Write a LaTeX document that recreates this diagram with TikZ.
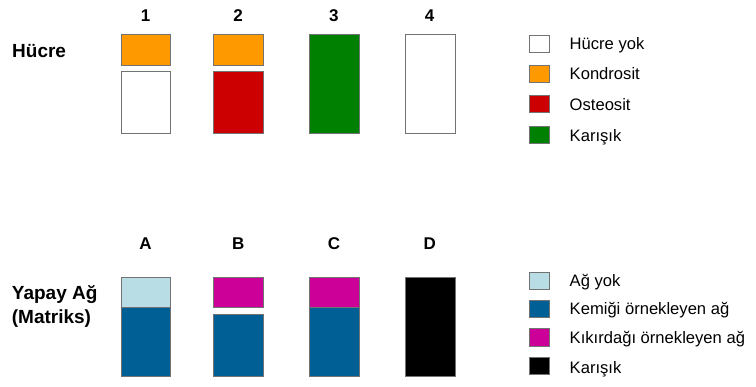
\documentclass[tikz,border=0pt]{standalone}
\usepackage{fontspec}
\setmainfont{Liberation Sans}
\definecolor{kondrosit}{RGB}{255,153,0}
\definecolor{osteosit}{RGB}{204,0,0}
\definecolor{karisik}{RGB}{0,128,0}
\definecolor{agyok}{RGB}{184,221,228}
\definecolor{kemik}{RGB}{0,96,150}
\definecolor{kikirdak}{RGB}{204,0,153}

\tikzset{
  cell/.style={rectangle, draw=black!55, line width=0.8pt, inner sep=0pt,
    anchor=north west, minimum width=49.6pt},
  key/.style={rectangle, draw=black!55, line width=0.8pt, inner sep=0pt,
    anchor=north west, minimum width=20pt, minimum height=17.5pt},
  keytext/.style={anchor=base west, inner sep=0pt, font=\fontsize{16.6}{18}\selectfont},
  head/.style={anchor=base, inner sep=0pt, font=\bfseries\fontsize{17}{19}\selectfont},
  rowname/.style={anchor=base west, inner sep=0pt, align=left,
    font=\bfseries\fontsize{19}{24}\selectfont}
}

\begin{document}
\begin{tikzpicture}[x=1pt, y=-1pt]
    \useasboundingbox (0,0) rectangle (756,387);
    % hucre
    \node[rowname] (hucre) at (12,57.3) {Hücre};
    \node[head] (n1) at (145.5,21.7) {1};
    \node[head] (n2) at (238.2,21.7) {2};
    \node[head] (n3) at (333.9,21.7) {3};
    \node[head] (n4) at (429.7,21.7) {4};
    \node[cell, fill=kondrosit, minimum height=31.3pt] (c1top) at (120.7,34) {};
    \node[cell, fill=white, minimum height=62.3pt] (c1bot) at (120.7,71) {};
    \node[cell, fill=kondrosit, minimum height=31.3pt] (c2top) at (213.4,34) {};
    \node[cell, fill=osteosit, minimum height=62.3pt] (c2bot) at (213.4,71) {};
    \node[cell, fill=karisik, minimum height=99.3pt] (c3) at (309,34) {};
    \node[cell, fill=white, minimum height=99.3pt] (c4) at (404.9,34) {};
    % legend 1
    \node[key, fill=white] (k1) at (529.3,35) {};
    \node[key, fill=kondrosit] (k2) at (529.3,65) {};
    \node[key, fill=osteosit] (k3) at (529.3,95) {};
    \node[key, fill=karisik] (k4) at (529.3,126) {};
    \node[keytext] (t1) at (569.5,50) {Hücre yok};
    \node[keytext] (t2) at (569.5,79.5) {Kondrosit};
    \node[keytext] (t3) at (569.5,110.5) {Osteosit};
    \node[keytext] (t4) at (569.5,141.5) {Karışık};
    % yapay ag
    \node[rowname] (matriks) at (11.7,324) {Yapay Ağ\\(Matriks)};
    \node[head] (nA) at (145.5,249.3) {A};
    \node[head] (nB) at (238.2,249.3) {B};
    \node[head] (nC) at (333.9,249.3) {C};
    \node[head] (nD) at (429.7,249.3) {D};
    \node[cell, fill=agyok, minimum height=30.6pt] (mAtop) at (120.7,276.7) {};
    \node[cell, fill=kemik, minimum height=68.4pt] (mAbot) at (120.7,307.3) {};
    \node[cell, fill=kikirdak, minimum height=30pt] (mBtop) at (213.4,276.7) {};
    \node[cell, fill=kemik, minimum height=61.7pt] (mBbot) at (213.4,314) {};
    \node[cell, fill=kikirdak, minimum height=30.6pt] (mCtop) at (309,276.7) {};
    \node[cell, fill=kemik, minimum height=68.4pt] (mCbot) at (309,307.3) {};
    \node[cell, fill=black, minimum height=99pt] (mD) at (404.9,276.7) {};
    % legend 2
    \node[key, fill=agyok] (k5) at (529.3,271.7) {};
    \node[key, fill=kemik] (k6) at (529.3,299.7) {};
    \node[key, fill=kikirdak] (k7) at (529.3,328.5) {};
    \node[key, fill=black] (k8) at (529.3,357) {};
    \node[keytext] (t5) at (569.5,286.7) {Ağ yok};
    \node[keytext] (t6) at (569.5,315) {Kemiği örnekleyen ağ};
    \node[keytext] (t7) at (569.5,343.3) {Kıkırdağı örnekleyen ağ};
    \node[keytext] (t8) at (569.5,373.3) {Karışık};
\end{tikzpicture}
\end{document}
